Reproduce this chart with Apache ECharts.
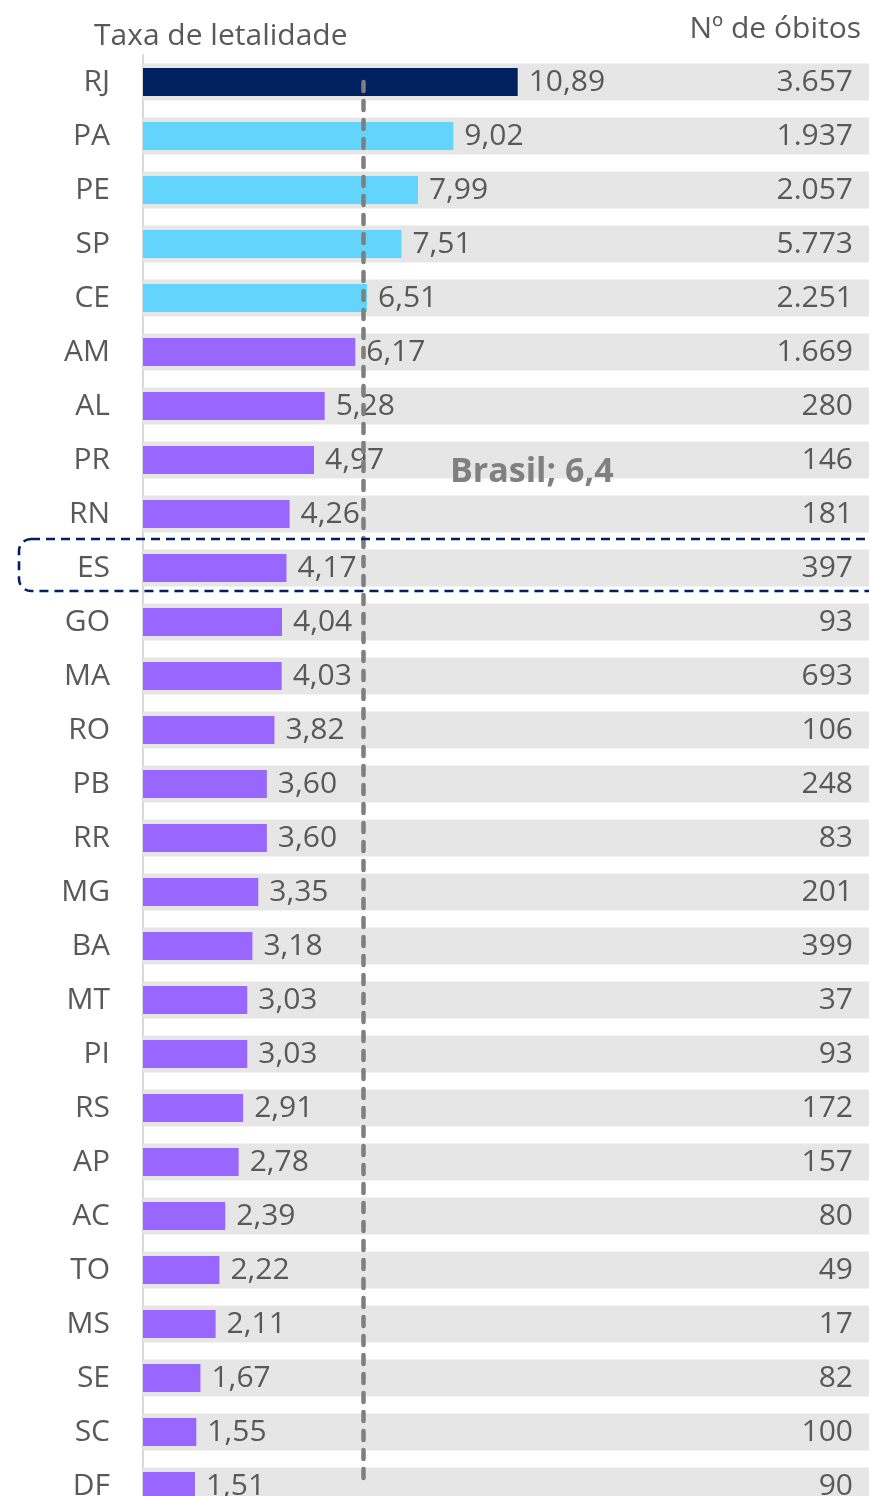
<!DOCTYPE html>
<html>
<head>
<meta charset="utf-8">
<script src="https://cdn.jsdelivr.net/npm/echarts@6/dist/echarts.min.js"></script>
<style>
  html, body { margin: 0; padding: 0; background: #fff; }
  #chart { width: 869px; height: 1496px; }
</style>
</head>
<body>
<div id="chart"></div>
<script>
// estados, taxa de letalidade (%) e nº de óbitos
var estados = ['RJ','PA','PE','SP','CE','AM','AL','PR','RN','ES','GO','MA','RO','PB','RR','MG','BA','MT','PI','RS','AP','AC','TO','MS','SE','SC','DF'];
var taxa = [10.89, 9.02, 7.99, 7.51, 6.51, 6.17, 5.28, 4.97, 4.26, 4.17, 4.04, 4.03, 3.82, 3.60, 3.60, 3.35, 3.18, 3.03, 3.03, 2.91, 2.78, 2.39, 2.22, 2.11, 1.67, 1.55, 1.51];
var obitos = [3657, 1937, 2057, 5773, 2251, 1669, 280, 146, 181, 397, 93, 693, 106, 248, 83, 201, 399, 37, 93, 172, 157, 80, 49, 17, 82, 100, 90];
var brasil = 6.4;
var escalaMax = 21.1;

var font = '"Open Sans", "Noto Sans", sans-serif';
var cinzaTexto = '#595959';
var tam = 30;

function fmtTaxa(v) { return v.toFixed(2).replace('.', ','); }
function fmtObitos(v) { return String(v).replace(/\B(?=(\d{3})+(?!\d))/g, '.'); }
function corBarra(i) {
  if (i === 0) return '#002060';
  if (i < 5) return '#63d5fd';
  return '#9966ff';
}

var chart = echarts.init(document.getElementById('chart'));
chart.setOption({
  animation: false,
  textStyle: { fontFamily: font },
  title: [
    { text: 'Taxa de letalidade', left: 89, top: 16,
      textStyle: { fontFamily: font, fontSize: tam, fontWeight: 'normal', color: cinzaTexto } },
    { text: 'Nº de óbitos', right: 3, top: 9,
      textStyle: { fontFamily: font, fontSize: tam, fontWeight: 'normal', color: cinzaTexto } }
  ],
  grid: { left: 143, right: 0, top: 55, height: 1458, outerBoundsMode: 'none' },
  xAxis: { type: 'value', min: 0, max: escalaMax, show: false },
  yAxis: [
    {
      type: 'category', data: estados, inverse: true,
      axisLine: { lineStyle: { color: '#d9d9d9', width: 2 } },
      axisTick: { length: 11, lineStyle: { color: '#d9d9d9', width: 2 } },
      axisLabel: { margin: 33, fontSize: tam, color: cinzaTexto, fontFamily: font }
    },
    { type: 'category', data: estados, inverse: true, show: false }
  ],
  series: [
    {
      name: 'fundo', type: 'bar', yAxisIndex: 1, barWidth: 37, z: 1,
      silent: true,
      itemStyle: { color: '#e6e6e6' },
      data: estados.map(function () { return escalaMax; }),
      label: {
        show: true, position: 'insideRight', distance: 16,
        fontSize: tam, color: cinzaTexto, fontFamily: font,
        formatter: function (p) { return fmtObitos(obitos[p.dataIndex]); }
      }
    },
    {
      name: 'Taxa de letalidade', type: 'bar', yAxisIndex: 0, barWidth: 28, z: 3,
      data: taxa.map(function (v, i) {
        return { value: v, itemStyle: { color: corBarra(i) } };
      }),
      label: {
        show: true, position: 'right', distance: 11,
        fontSize: tam, color: cinzaTexto, fontFamily: font,
        formatter: function (p) { return fmtTaxa(p.value); }
      },
      markLine: {
        silent: true, symbol: 'none', z: 5,
        lineStyle: { color: '#7f7f7f', width: 4.5, type: [9, 10], cap: 'round' },
        label: { show: false },
        data: [[{ coord: [brasil, estados[0]] }, { coord: [brasil, estados[estados.length - 1]] }]]
      }
    }
  ],
  graphic: [
    {
      type: 'text', x: 450, y: 472, z: 10,
      style: { text: 'Brasil; 6,4', fontFamily: font, fontSize: 34, fontWeight: 'bold', fill: '#808080', verticalAlign: 'middle' }
    },
    {
      type: 'rect', z: 10,
      shape: { x: 19, y: 539, width: 900, height: 52, r: 12 },
      style: { fill: 'none', stroke: '#002060', lineWidth: 2.6, lineDash: [9, 6] }
    }
  ]
});
</script>
</body>
</html>
